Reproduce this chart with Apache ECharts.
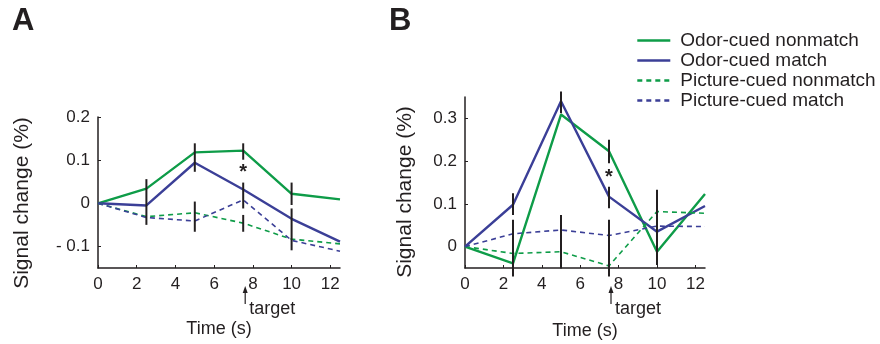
<!DOCTYPE html>
<html>
<head>
<meta charset="utf-8">
<script src="https://cdn.jsdelivr.net/npm/echarts@6/dist/echarts.min.js"></script>
<style>html,body{margin:0;padding:0;background:#fff}#c{width:880px;height:344px}</style>
</head>
<body>
<div id="c"></div>
<script>
// ---- data ----
const xTimes = [0, 2.5, 5, 7.5, 10, 12.5];
const xTicks = [0, 2, 4, 6, 8, 10, 12];
const seriesNames = ['Odor-cued nonmatch', 'Odor-cued match', 'Picture-cued nonmatch', 'Picture-cued match'];

// Panel A
const aOdorNonmatch = [0, 0.034, 0.118, 0.122, 0.022, 0.009];
const aOdorMatch    = [0, -0.005, 0.094, 0.032, -0.036, -0.089];
const aPicNonmatch  = [0, -0.031, -0.022, -0.046, -0.083, -0.094];
const aPicMatch     = [0, -0.033, -0.041, 0.008, -0.086, -0.111];
const aYTicks = [-0.1, 0, 0.1, 0.2];
const aErr = [[2.5, -0.050, 0.056], [5, 0.073, 0.139], [5, -0.066, 0.004],
              [7.5, 0.101, 0.139], [7.5, -0.012, 0.048], [7.5, -0.066, -0.027],
              [10, -0.004, 0.048], [10, -0.109, -0.012]];
const aStar = [[7.5, 0.080]];

// Panel B
const bOdorNonmatch = [0, -0.039, 0.309, 0.223, -0.012, 0.123];
const bOdorMatch    = [0, 0.098, 0.340, 0.117, 0.035, 0.095];
const bPicNonmatch  = [0, -0.016, -0.012, -0.045, 0.082, 0.078];
const bPicMatch     = [0, 0.030, 0.039, 0.026, 0.048, 0.047];
const bYTicks = [0, 0.1, 0.2, 0.3];
const bErr = [[2.5, 0.074, 0.125], [2.5, -0.070, 0.063], [5, 0.312, 0.363], [5, -0.051, 0.074],
              [7.5, 0.195, 0.250], [7.5, 0.090, 0.140], [7.5, -0.070, 0.063], [10, -0.043, 0.133]];
const bStar = [[7.5, 0.172]];

const targetTime = [[7.5]];

// ---- styling ----
const FONT = '"Liberation Sans", Arial, Helvetica, sans-serif';
const INK = '#231f20';
const GREEN = '#0e9c48';
const BLUE = '#3b3f97';

function pair(ys) { return xTimes.map((x, i) => [x, ys[i]]); }

function xAxis(gi) {
  return {
    type: 'value', gridIndex: gi, min: 0, max: 12.5,
    axisLine: { show: true, onZero: false, lineStyle: { color: INK, width: 1.5 } },
    axisTick: { show: true, inside: true, length: 3, customValues: xTicks, lineStyle: { color: INK } },
    axisLabel: { customValues: xTicks, margin: 8, fontSize: 17, color: INK, fontFamily: FONT },
    splitLine: { show: false }
  };
}
function yAxis(gi, min, max, ticks) {
  return {
    type: 'value', gridIndex: gi, min: min, max: max,
    axisLine: { show: true, onZero: false, lineStyle: { color: INK, width: 1.5 } },
    axisTick: { show: true, inside: true, length: 3, customValues: ticks, lineStyle: { color: INK } },
    axisLabel: {
      customValues: ticks, margin: 8, fontSize: 17, color: INK, fontFamily: FONT,
      formatter: v => v === 0 ? '0' : (v < 0 ? '- ' + Math.abs(v).toFixed(1) : v.toFixed(1))
    },
    splitLine: { show: false }
  };
}
function lineSeries(name, ys, gi, color, dashed) {
  return {
    name: name, type: 'line', xAxisIndex: gi, yAxisIndex: gi, data: pair(ys),
    symbol: 'none', animation: false, z: 3,
    lineStyle: { color: color, width: dashed ? 1.6 : 2.4, type: dashed ? [5, 4] : 'solid' },
    itemStyle: { color: color }
  };
}
function errSeries(data, gi) {
  return {
    type: 'custom', xAxisIndex: gi, yAxisIndex: gi, data: data, silent: true, z: 5,
    encode: { x: 0, y: [1, 2] },
    renderItem: (params, api) => {
      const p1 = api.coord([api.value(0), api.value(1)]);
      const p2 = api.coord([api.value(0), api.value(2)]);
      return { type: 'line', shape: { x1: p1[0], y1: p1[1], x2: p2[0], y2: p2[1] },
               style: { stroke: INK, lineWidth: 2 } };
    }
  };
}
function starSeries(data, gi) {
  return {
    type: 'custom', xAxisIndex: gi, yAxisIndex: gi, data: data, silent: true, z: 6,
    renderItem: (params, api) => {
      const p = api.coord([api.value(0), api.value(1)]);
      return { type: 'text', x: p[0], y: p[1] + 4,
               style: { text: '*', fontSize: 20, fontWeight: 'bold', fontFamily: FONT, fill: INK,
                        align: 'center', verticalAlign: 'middle' } };
    }
  };
}
function targetSeries(gi, ymin) {
  return {
    type: 'custom', xAxisIndex: gi, yAxisIndex: gi, data: targetTime, silent: true, z: 6,
    renderItem: (params, api) => {
      const p = api.coord([api.value(0), ymin]);
      const x = p[0] + 2, y0 = p[1];
      return { type: 'group', children: [
        { type: 'line', shape: { x1: x, y1: y0 + 22, x2: x, y2: y0 + 36 }, style: { stroke: INK, lineWidth: 1.2 } },
        { type: 'polygon', shape: { points: [[x, y0 + 18], [x - 2.5, y0 + 25], [x + 2.5, y0 + 25]] }, style: { fill: INK } },
        { type: 'text', x: x + 4, y: y0 + 41,
          style: { text: 'target', fontSize: 18, fontFamily: FONT, fill: INK, align: 'left', verticalAlign: 'middle' } }
      ] };
    }
  };
}

const chart = echarts.init(document.getElementById('c'), null, { renderer: 'canvas' });
chart.setOption({
  animation: false,
  backgroundColor: '#ffffff',
  textStyle: { fontFamily: FONT },
  grid: [
    { left: 98, top: 117, width: 242, height: 151 },
    { left: 465, top: 97, width: 240, height: 171 }
  ],
  xAxis: [
    Object.assign(xAxis(0), { name: 'Time (s)', nameLocation: 'middle', nameGap: 52,
      nameTextStyle: { fontSize: 18, color: INK, fontFamily: FONT } }),
    Object.assign(xAxis(1), { name: 'Time (s)', nameLocation: 'middle', nameGap: 54,
      nameTextStyle: { fontSize: 18, color: INK, fontFamily: FONT } })
  ],
  yAxis: [yAxis(0, -0.15, 0.2, aYTicks), yAxis(1, -0.05, 0.35, bYTicks)],
  legend: {
    data: seriesNames, orient: 'vertical', left: 636, top: 31, padding: 0,
    itemWidth: 33, itemHeight: 14, itemGap: 1,
    itemStyle: { opacity: 0 },
    lineStyle: { width: 2.6 },
    textStyle: { fontSize: 19, color: INK, fontFamily: FONT, padding: [0, 0, 0, 5] },
    selectedMode: false
  },
  graphic: [
    { type: 'text', x: 12, y: 21, style: { text: 'A', fontSize: 31, fontWeight: 'bold', fontFamily: FONT, fill: INK, verticalAlign: 'middle' } },
    { type: 'text', x: 389, y: 21, style: { text: 'B', fontSize: 31, fontWeight: 'bold', fontFamily: FONT, fill: INK, verticalAlign: 'middle' } },
    { type: 'text', x: 22, y: 203, rotation: Math.PI / 2,
      style: { text: 'Signal change (%)', fontSize: 21, fontFamily: FONT, fill: INK, align: 'center', verticalAlign: 'middle' } },
    { type: 'text', x: 405, y: 192, rotation: Math.PI / 2,
      style: { text: 'Signal change (%)', fontSize: 21, fontFamily: FONT, fill: INK, align: 'center', verticalAlign: 'middle' } }
  ],
  series: [
    lineSeries(seriesNames[0], aOdorNonmatch, 0, GREEN, false),
    lineSeries(seriesNames[1], aOdorMatch, 0, BLUE, false),
    lineSeries(seriesNames[2], aPicNonmatch, 0, GREEN, true),
    lineSeries(seriesNames[3], aPicMatch, 0, BLUE, true),
    lineSeries(seriesNames[0], bOdorNonmatch, 1, GREEN, false),
    lineSeries(seriesNames[1], bOdorMatch, 1, BLUE, false),
    lineSeries(seriesNames[2], bPicNonmatch, 1, GREEN, true),
    lineSeries(seriesNames[3], bPicMatch, 1, BLUE, true),
    errSeries(aErr, 0), errSeries(bErr, 1),
    starSeries(aStar, 0), starSeries(bStar, 1),
    targetSeries(0, -0.15), targetSeries(1, -0.05)
  ]
});
</script>
</body>
</html>
